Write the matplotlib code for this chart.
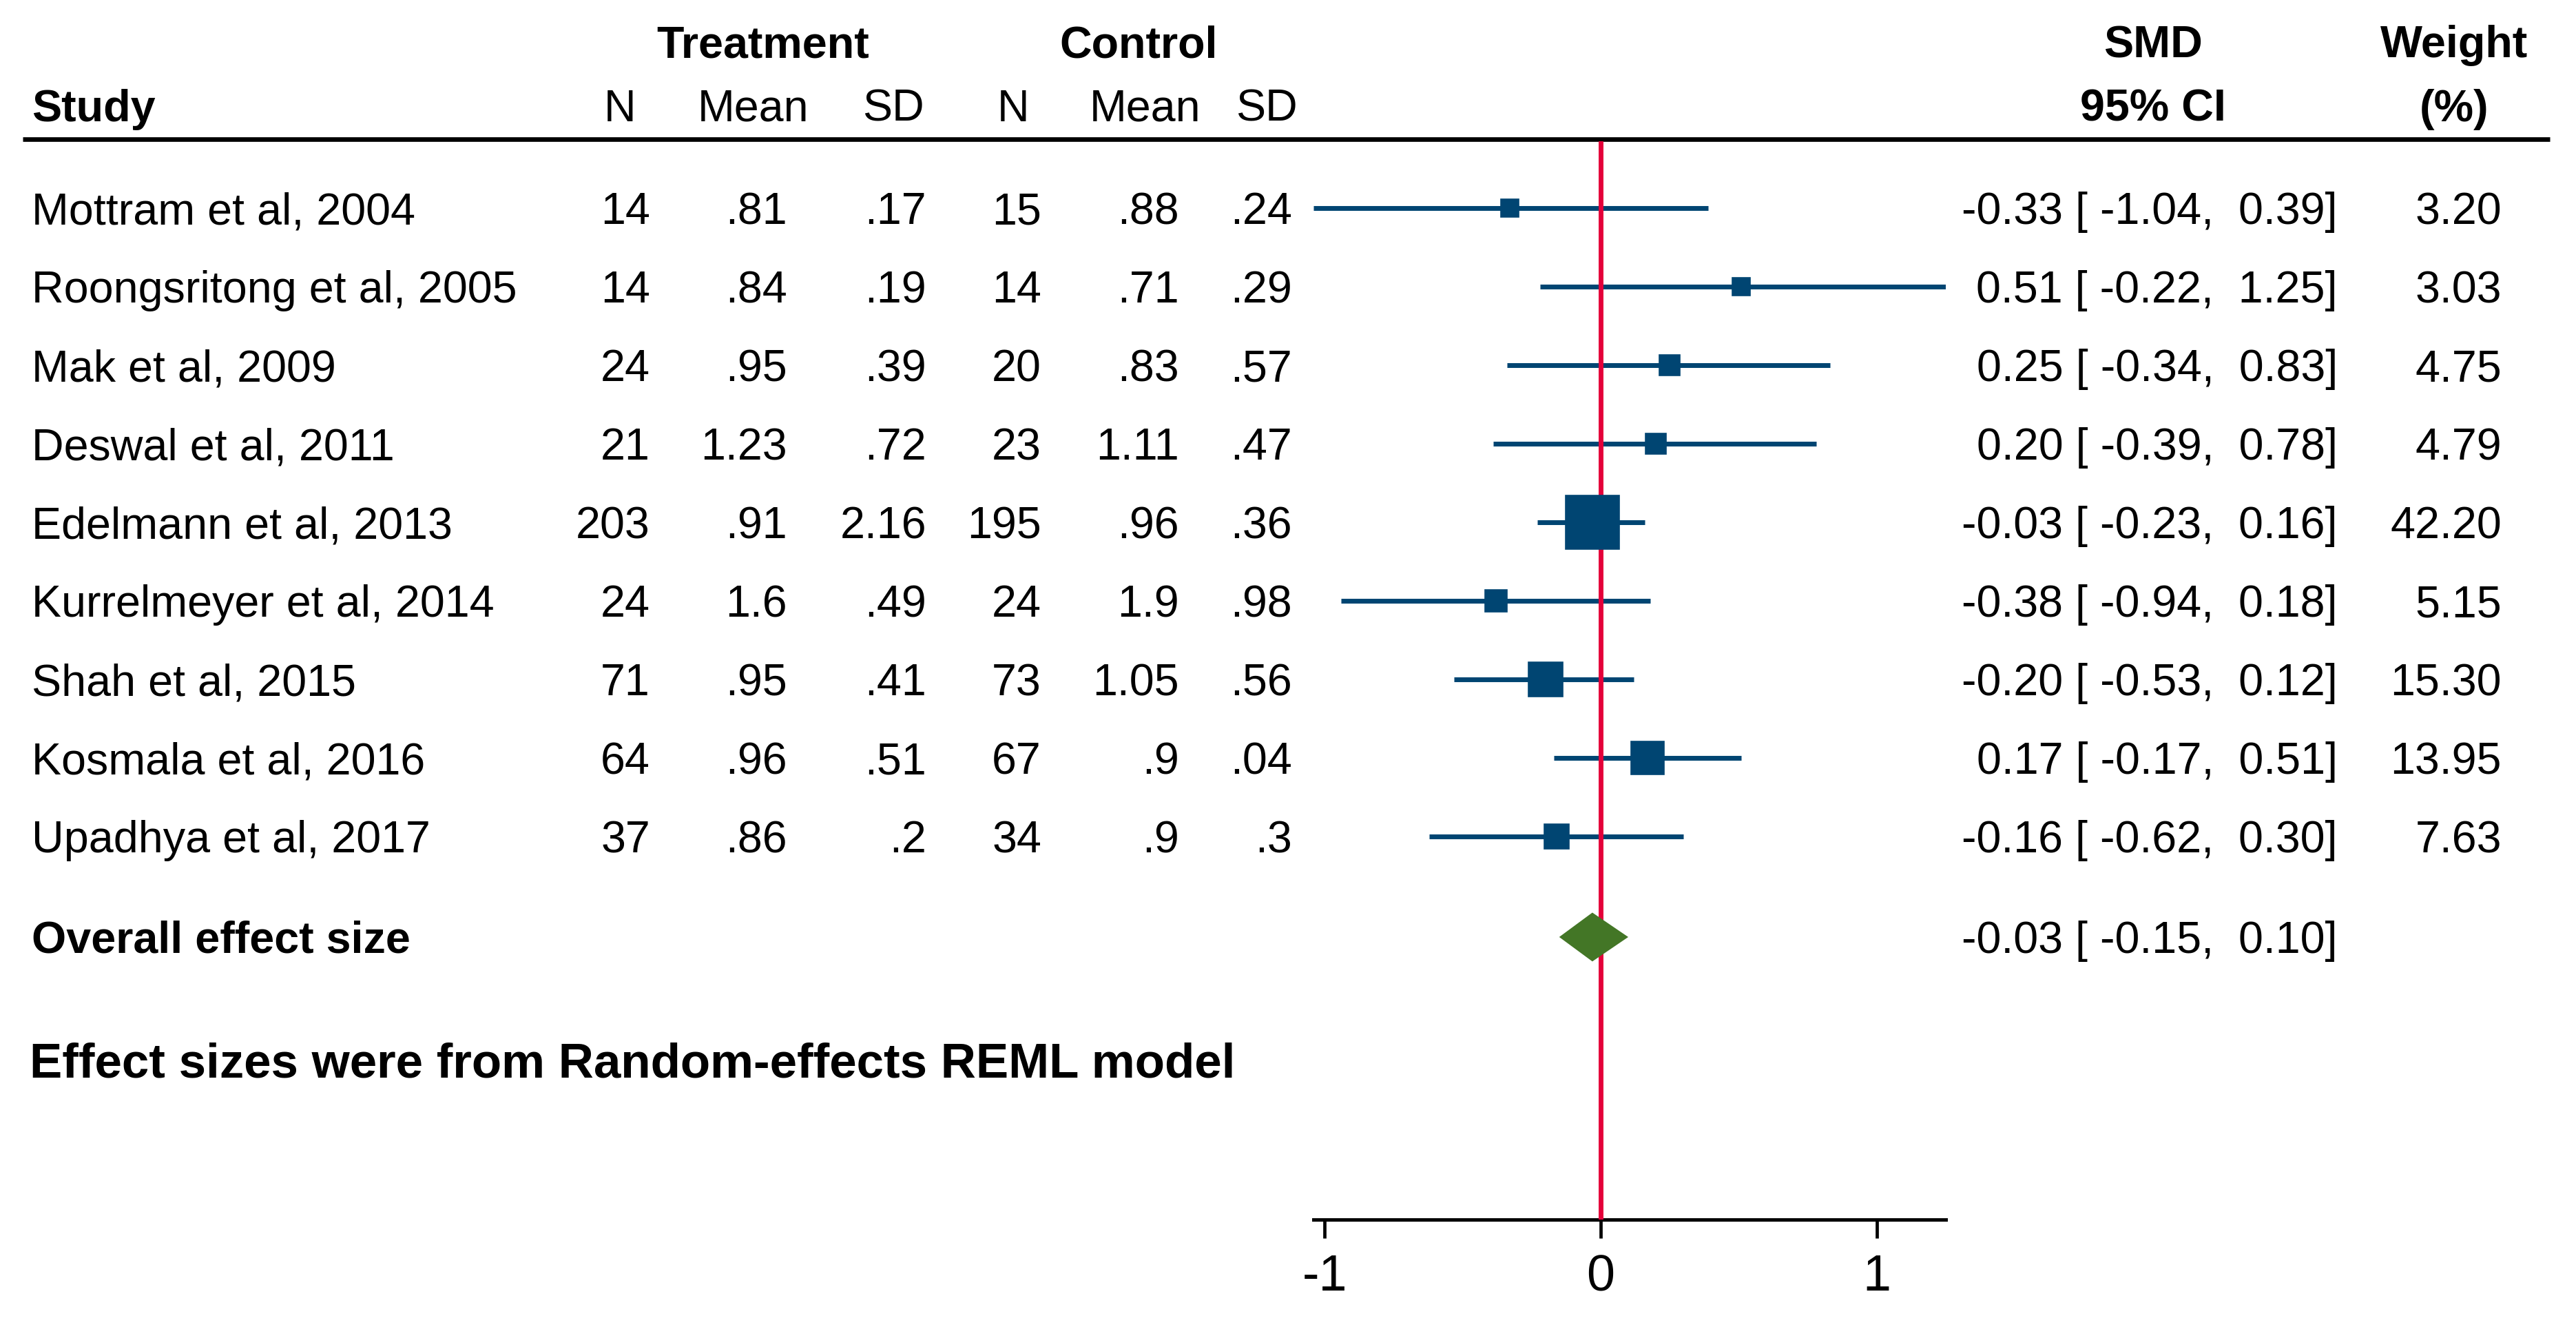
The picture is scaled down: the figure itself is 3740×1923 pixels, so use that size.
import matplotlib
matplotlib.use('Agg')
import matplotlib.pyplot as plt
import numpy as np

# -------------------------- data --------------------------
studies = ["Mottram et al, 2004", "Roongsritong et al, 2005", "Mak et al, 2009",
           "Deswal et al, 2011", "Edelmann et al, 2013", "Kurrelmeyer et al, 2014",
           "Shah et al, 2015", "Kosmala et al, 2016", "Upadhya et al, 2017"]
t_n = [14, 14, 24, 21, 203, 24, 71, 64, 37]
t_mean = [0.81, 0.84, 0.95, 1.23, 0.91, 1.6, 0.95, 0.96, 0.86]
t_sd = [0.17, 0.19, 0.39, 0.72, 2.16, 0.49, 0.41, 0.51, 0.2]
c_n = [15, 14, 20, 23, 195, 24, 73, 67, 34]
c_mean = [0.88, 0.71, 0.83, 1.11, 0.96, 1.9, 1.05, 0.9, 0.9]
c_sd = [0.24, 0.29, 0.57, 0.47, 0.36, 0.98, 0.56, 0.04, 0.3]
smd = [-0.33, 0.51, 0.25, 0.20, -0.03, -0.38, -0.20, 0.17, -0.16]
ci_lo = [-1.04, -0.22, -0.34, -0.39, -0.23, -0.94, -0.53, -0.17, -0.62]
ci_hi = [0.39, 1.25, 0.83, 0.78, 0.16, 0.18, 0.12, 0.51, 0.30]
weight = [3.20, 3.03, 4.75, 4.79, 42.20, 5.15, 15.30, 13.95, 7.63]
overall_smd, overall_lo, overall_hi = -0.03, -0.15, 0.10
xticks = [-1, 0, 1]

NAVY = '#004572'
RED = '#E4003A'
GREEN = '#437626'
FONT = 'Liberation Sans'

plt.rcParams['font.family'] = [FONT, 'DejaVu Sans']
plt.rcParams['axes.unicode_minus'] = False

W, H = 3741, 1923
fig = plt.figure(figsize=(W / 100, H / 100), dpi=100)

# row layout (pixels from the top)
ROW0, STEP = 302, 114
OVERALL_ROW = 9.28
rows = np.arange(len(studies))


def row_px(r):
    return ROW0 + STEP * r


def fmt(v):
    s = f"{v:g}"
    return s[1:] if s.startswith("0.") else s


# -------------------------- forest panel --------------------------
ax_left, ax_right = 1907, 2825
ax_top, ax_bot = 205, 1770
ax = fig.add_axes([ax_left / W, (H - ax_bot) / H,
                   (ax_right - ax_left) / W, (ax_bot - ax_top) / H])
ax.set_xlim(min(ci_lo), max(ci_hi))
ax.set_ylim((ax_bot - ROW0) / STEP, (ax_top - ROW0) / STEP)

ax.hlines(rows, ci_lo, ci_hi, color=NAVY, lw=5, zorder=2)
ax.axvline(0, color=RED, lw=5, zorder=3)
for r, x, w in zip(rows, smd, weight):
    ax.plot(x, r, marker='s', ms=8.0 * np.sqrt(w), mew=5.5,
            color=NAVY, mfc=NAVY, mec=NAVY, zorder=4, ls='none')
dh = 0.311
ax.fill([overall_lo, overall_smd, overall_hi, overall_smd],
        [OVERALL_ROW, OVERALL_ROW - dh, OVERALL_ROW, OVERALL_ROW + dh],
        color=GREEN, lw=0, zorder=4)

for s in ['top', 'right', 'left']:
    ax.spines[s].set_visible(False)
ax.spines['bottom'].set_linewidth(3.6)
ax.set_yticks([])
ax.set_xticks(xticks)
ax.set_xticklabels([str(t) for t in xticks])
ax.tick_params(axis='x', length=19.4, width=3.4, labelsize=53, pad=16)
ax.patch.set_alpha(0)

# -------------------------- text table --------------------------
tx = fig.add_axes([0, 0, 1, 1], zorder=-1)
tx.set_xlim(0, W)
tx.set_ylim(H, 0)
tx.axis('off')

FS = 46.5
tx.hlines(201.5, 33, 3702, color='black', lw=4.8)

# headers
hb1, hb2 = 83, 176
for x, s in [(1108, 'Treatment'), (1653, 'Control'), (3126, 'SMD'), (3563, 'Weight')]:
    tx.text(x, hb1, s, fontsize=FS, fontweight='bold', ha='center', va='baseline')
tx.text(46, hb2, 'Study', fontsize=FS, fontweight='bold', ha='left', va='baseline')
for x, s in [(3126, '95% CI'), (3563, '(%)')]:
    tx.text(x, hb2, s, fontsize=FS, fontweight='bold', ha='center', va='baseline')
for x, s in [(900, 'N'), (1094, 'Mean'), (1297, 'SD'),
             (1471, 'N'), (1663, 'Mean'), (1839, 'SD')]:
    tx.text(x, hb2, s, fontsize=FS, ha='center', va='baseline')

# study rows
cols = [(944, t_n), (1143, t_mean), (1345, t_sd),
        (1512, c_n), (1712, c_mean), (1876, c_sd)]
for i, name in enumerate(studies):
    yb = row_px(i) + 23
    tx.text(46, yb, name, fontsize=FS, ha='left', va='baseline')
    for x, vals in cols:
        v = vals[i]
        s = str(v) if isinstance(v, int) else fmt(v)
        tx.text(x, yb, s, fontsize=FS, ha='right', va='baseline')
    tx.text(3394, yb, f"{smd[i]:5.2f} [{ci_lo[i]:6.2f},{ci_hi[i]:6.2f}]",
            fontsize=FS, ha='right', va='baseline')
    tx.text(3632, yb, f"{weight[i]:.2f}", fontsize=FS, ha='right', va='baseline')

yb = row_px(OVERALL_ROW) + 23
tx.text(46, yb, 'Overall effect size', fontsize=FS, fontweight='bold',
        ha='left', va='baseline')
tx.text(3394, yb, f"{overall_smd:5.2f} [{overall_lo:6.2f},{overall_hi:6.2f}]",
        fontsize=FS, ha='right', va='baseline')

tx.text(43, 1564, 'Effect sizes were from Random-effects REML model',
        fontsize=51, fontweight='bold', ha='left', va='baseline')

fig.savefig('out.png', dpi=100, facecolor='white')
